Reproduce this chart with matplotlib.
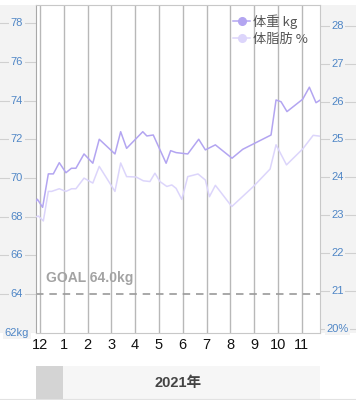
import matplotlib
matplotlib.use('Agg')
import matplotlib.pyplot as plt
from matplotlib.lines import Line2D
from matplotlib.patches import Rectangle

# ---------------- data ----------------
months = ['12', '1', '2', '3', '4', '5', '6', '7', '8', '9', '10', '11']
year_label = '2021年'

# x = months since the "12" grid line (Dec 2020)
weight_x = [-0.21, -0.11, 0.11, 0.35, 0.56, 0.81, 1.09, 1.32, 1.51, 1.85, 2.22, 2.49,
            3.15, 3.39, 3.64, 4.32, 4.49, 4.76, 5.30, 5.49, 5.72, 6.21, 6.67, 6.95,
            7.37, 8.07, 8.52, 9.71, 9.92, 10.13, 10.38, 11.04, 11.32, 11.60, 11.78]
weight_kg = [68.71, 68.90, 68.48, 70.21, 70.21, 70.79, 70.27, 70.50, 70.50, 71.24, 70.76, 72.00,
             71.24, 72.39, 71.53, 72.39, 72.17, 72.22, 70.76, 71.41, 71.31, 71.24, 72.00, 71.45,
             71.71, 71.02, 71.48, 72.22, 74.03, 73.94, 73.43, 74.07, 74.69, 73.89, 74.03]

fat_x = [-0.21, -0.07, 0.14, 0.35, 0.49, 0.81, 1.09, 1.33, 1.51, 1.85, 2.22, 2.49,
         3.15, 3.39, 3.64, 4.04, 4.34, 4.62, 4.83, 5.04, 5.33, 5.54, 5.72, 5.96,
         6.21, 6.64, 6.95, 7.12, 7.37, 7.57, 8.06, 8.97, 9.67, 9.92, 10.36, 11.04,
         11.48, 11.74]
fat_pct = [22.95, 22.98, 22.85, 23.63, 23.63, 23.70, 23.63, 23.70, 23.70, 23.98, 23.85, 24.29,
           23.63, 24.38, 24.02, 24.01, 23.91, 23.89, 24.11, 23.89, 23.76, 23.80, 23.71, 23.42,
           24.02, 24.09, 23.93, 23.49, 23.79, 23.63, 23.23, 23.76, 24.22, 24.86, 24.33, 24.75,
           25.11, 25.09]

goal_kg = 64.0
left_ticks = [62, 64, 66, 68, 70, 72, 74, 76, 78]
right_ticks = [20, 21, 22, 23, 24, 25, 26, 27, 28]
legend_labels = ['体重 kg', '体脂肪 %']

# ---------------- style ----------------
W, H = 356, 400
FONT = ['Liberation Sans', 'Noto Sans CJK JP', 'DejaVu Sans']
plt.rcParams['font.family'] = FONT
c_weight = '#b3a5f1'
c_fat = '#dcd5fb'
c_tick = '#4f86c6'
c_panel = '#f3f3f3'
c_grid = '#b8b8b8'

fig = plt.figure(figsize=(W / 100, H / 100), dpi=100)


def rect(l, t, r, b):
    return [l / W, 1 - b / H, (r - l) / W, (b - t) / H]


L, T, R, B = 36, 5, 320.3, 332.7
ylim_l = (62, 78.94)
ylim_r = (19.90, 28.55)

# side panels
axl = fig.add_axes(rect(0, T, L, B))
axl.set_xlim(0, L)
axl.set_ylim(*ylim_l)
axl.axis('off')
axl.add_patch(Rectangle((0, ylim_l[0]), L, ylim_l[1] - ylim_l[0], color=c_panel, zorder=0))
for i, v in enumerate(left_ticks):
    axl.plot([0, L], [v, v], color='#d0d0d0', lw=0.8, zorder=1)
    txt = f'{v}kg' if i == 0 else f'{v}'
    axl.text(17, v, txt, ha='center', va='center', fontsize=8, color=c_tick,
             bbox=dict(facecolor=c_panel, edgecolor='none', pad=1.0), zorder=2, clip_on=False)

axr = fig.add_axes(rect(R, T, W, B))
axr.set_xlim(0, W - R)
axr.set_ylim(*ylim_r)
axr.axis('off')
axr.add_patch(Rectangle((0, ylim_r[0]), W - R, ylim_r[1] - ylim_r[0], color=c_panel, zorder=0))
for i, v in enumerate(right_ticks):
    axr.plot([0, W - R], [v, v], color='#d0d0d0', lw=0.8, zorder=1)
    txt = f'{v}%' if i == 0 else f'{v}'
    axr.text(17.5, v, txt, ha='center', va='center', fontsize=8, color=c_tick,
             bbox=dict(facecolor=c_panel, edgecolor='none', pad=1.0), zorder=2, clip_on=False)

# main chart
ax = fig.add_axes(rect(L, T, R, B))
ax.set_xlim(-0.168, 11.78)
ax.set_ylim(*ylim_l)
for s in ax.spines.values():
    s.set_color('#c8c8c8')
    s.set_linewidth(0.8)
ax.spines['left'].set_color('#a8a8a8')
ax.set_yticks([])
ax.set_xticks(range(len(months)))
ax.set_xticklabels(months, fontsize=10.5, color='#111111')
ax.tick_params(axis='x', length=0, pad=3.5)
for i in range(len(months)):
    ax.axvline(i, color=c_grid, lw=1.0, zorder=1)
ax.axhline(goal_kg, color='#9a9a9a', lw=1.2, ls=(0, (4.5, 3.5)), zorder=2)
ax.text(0.25, goal_kg + 0.45, f'GOAL {goal_kg:.1f}kg', fontsize=10, fontweight='bold',
        color='#a3a3a3', ha='left', va='bottom', zorder=3)
ax.plot(weight_x, weight_kg, color=c_weight, lw=1.1, zorder=4)

ax2 = ax.twinx()
ax2.set_ylim(*ylim_r)
ax2.set_yticks([])
for s in ax2.spines.values():
    s.set_visible(False)
ax2.plot(fat_x, fat_pct, color=c_fat, lw=1.1, zorder=3)

handles = [Line2D([], [], color=c_weight, lw=1.1, marker='o', markersize=5.5),
           Line2D([], [], color=c_fat, lw=1.1, marker='o', markersize=5.5)]
ax2.legend(handles, legend_labels, loc='upper left', bbox_to_anchor=(0.665, 0.995),
           frameon=False, handlelength=1.3, handletextpad=0.25, labelspacing=0.3,
           prop={'family': ['Noto Sans CJK JP', 'DejaVu Sans'], 'size': 9.5},
           labelcolor='#555555', borderaxespad=0.2)

# bottom year band
fig.patches.append(Rectangle((36 / W, 1 - 399 / H), 27 / W, 33 / H, transform=fig.transFigure,
                             facecolor='#d4d4d4', edgecolor='none'))
fig.patches.append(Rectangle((63 / W, 1 - 399 / H), 257 / W, 33 / H, transform=fig.transFigure,
                             facecolor='#f6f6f6', edgecolor='none'))
fig.lines.append(Line2D([0, 1], [1 - 399 / H, 1 - 399 / H], transform=fig.transFigure,
                        color='#e2e2e2', lw=0.8))
fig.text(178 / W, 1 - 383 / H, year_label, ha='center', va='center', fontsize=10.5,
         fontweight='bold', color='#444444', family=FONT)

fig.savefig('out.png', dpi=100)
